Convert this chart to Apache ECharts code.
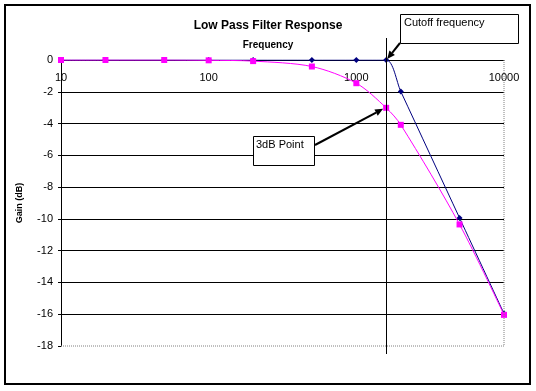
<!DOCTYPE html>
<html>
<head>
<meta charset="utf-8">
<script src="https://cdn.jsdelivr.net/npm/echarts@6/dist/echarts.min.js"></script>
<style>
html,body{margin:0;padding:0;background:#fff;}
#c{width:536px;height:391px;}
</style>
</head>
<body>
<div id="c"></div>
<script>
// Frequencies (Hz) at which the response was computed
const freqHz = [10, 20, 50, 100, 200, 500, 1000, 1592, 2000, 5000, 10000];
// Straight-line (asymptotic) approximation, dB
const asymptoteDb = [0, 0, 0, 0, 0, 0, 0, 0, -1.98, -9.94, -15.96];
// Actual RC low-pass response, dB
const actualDb = [0, 0, 0, -0.02, -0.07, -0.41, -1.46, -3.01, -4.08, -10.35, -16.04];
const cutoffIndex = 7;
const titleText = 'Low Pass Filter Response';
const xTitle = 'Frequency';
const yTitle = 'Gain (dB)';
const cutoffNote = 'Cutoff frequency';
const pointNote = '3dB Point';

const FONT = '"Liberation Sans", Arial, sans-serif';
const chart = echarts.init(document.getElementById('c'), null, {renderer: 'canvas'});

function pairs(ys) { return freqHz.map((f, i) => [f, ys[i]]); }

const option = {
  animation: false,
  backgroundColor: '#fff',
  title: [
    {text: titleText, left: 'center', top: 15,
     textStyle: {fontFamily: FONT, fontSize: 12, fontWeight: 'bold', color: '#000'}},
    {text: xTitle, left: 'center', top: 35,
     textStyle: {fontFamily: FONT, fontSize: 10, fontWeight: 'bold', color: '#000'}}
  ],
  grid: {left: 61, top: 60, right: 32, bottom: 45, containLabel: false},
  xAxis: {
    type: 'log', logBase: 10, min: 10, max: 10000,
    position: 'top',
    axisLine: {show: true, onZero: false, lineStyle: {color: '#000', width: 1}},
    axisTick: {show: false},
    minorTick: {show: false},
    splitLine: {show: false},
    minorSplitLine: {show: false},
    axisLabel: {show: true, inside: true, margin: 12, showMinLabel: true, showMaxLabel: true,
      formatter: v => String(v),
      fontFamily: FONT, fontSize: 11, color: '#000'}
  },
  yAxis: {
    type: 'value', min: -18, max: 0, interval: 2,
    name: yTitle, nameLocation: 'middle', nameGap: 37, nameRotate: 90,
    nameTextStyle: {fontFamily: FONT, fontSize: 9, fontWeight: 'bold', color: '#000'},
    axisLine: {show: true, lineStyle: {color: '#000', width: 1}},
    axisTick: {show: true, length: 3, lineStyle: {color: '#000'}},
    axisLabel: {margin: 8, fontFamily: FONT, fontSize: 11, color: '#000'},
    splitLine: {show: true, showMinLine: false, lineStyle: {color: '#000', width: 1}}
  },
  series: [
    {
      name: 'Asymptote', type: 'line', data: pairs(asymptoteDb),
      smooth: 0.3, symbol: 'diamond', symbolSize: 6,
      lineStyle: {color: '#000080', width: 1},
      itemStyle: {color: '#000080'}, z: 2
    },
    {
      name: 'Actual', type: 'line', data: pairs(actualDb),
      smooth: 0.3, symbol: 'rect', symbolSize: 6,
      lineStyle: {color: '#ff00ff', width: 1},
      itemStyle: {color: '#ff00ff'}, z: 3
    }
  ]
};
chart.setOption(option);

// Annotations, anchored to the data through the axes
const toPx = (x, y) => chart.convertToPixel({xAxisIndex: 0, yAxisIndex: 0}, [x, y]);
const cut = toPx(freqHz[cutoffIndex], asymptoteDb[cutoffIndex]);
const p3 = toPx(freqHz[cutoffIndex], actualDb[cutoffIndex]);
const tl = toPx(freqHz[0], 0);
const br = toPx(freqHz[freqHz.length - 1], -18);

function arrow(x1, y1, x2, y2) {
  const a = Math.atan2(y2 - y1, x2 - x1);
  const L = 8, W = 3.5;
  const bx = x2 - L * Math.cos(a), by = y2 - L * Math.sin(a);
  return [
    {type: 'line', shape: {x1: x1, y1: y1, x2: bx, y2: by},
     style: {stroke: '#000', lineWidth: 2}, z: 20},
    {type: 'polygon', shape: {points: [[x2, y2],
       [bx + W * Math.sin(a), by - W * Math.cos(a)],
       [bx - W * Math.sin(a), by + W * Math.cos(a)]]},
     style: {fill: '#000'}, z: 20}
  ];
}

const g = [];
// outer chart border
g.push({type: 'rect', shape: {x: 5, y: 5, width: 525, height: 379},
  style: {fill: null, stroke: '#000', lineWidth: 2}, z: 1});
// plot-area border (right + bottom) gray dotted
g.push({type: 'polyline', shape: {points: [[br[0], tl[1]], [br[0], br[1]], [tl[0], br[1]]]},
  style: {fill: null, stroke: '#808080', lineWidth: 1, lineDash: [1, 1]}, z: 5});
// vertical cutoff line
g.push({type: 'line', shape: {x1: Math.round(cut[0]) + 0.5, y1: tl[1] - 22, x2: Math.round(cut[0]) + 0.5, y2: br[1] + 8},
  style: {stroke: '#000', lineWidth: 1}, z: 10});
// cutoff label box
g.push({type: 'rect', shape: {x: 400.5, y: 14.5, width: 118, height: 29},
  style: {fill: '#fff', stroke: '#000', lineWidth: 1}, z: 15});
g.push({type: 'text', x: 404, y: 17, style: {text: cutoffNote, fill: '#000',
  font: '11px ' + FONT, textVerticalAlign: 'top'}, z: 16});
arrow(400, 43, cut[0] + 1, cut[1] - 1).forEach(e => g.push(e));
// 3dB label box
g.push({type: 'rect', shape: {x: 253.5, y: 136.5, width: 61, height: 29},
  style: {fill: '#fff', stroke: '#000', lineWidth: 1}, z: 15});
g.push({type: 'text', x: 256, y: 139, style: {text: pointNote, fill: '#000',
  font: '11px ' + FONT, textVerticalAlign: 'top'}, z: 16});
arrow(315, 145, p3[0] - 3, p3[1] + 1).forEach(e => g.push(e));

chart.setOption({graphic: g});
</script>
</body>
</html>
